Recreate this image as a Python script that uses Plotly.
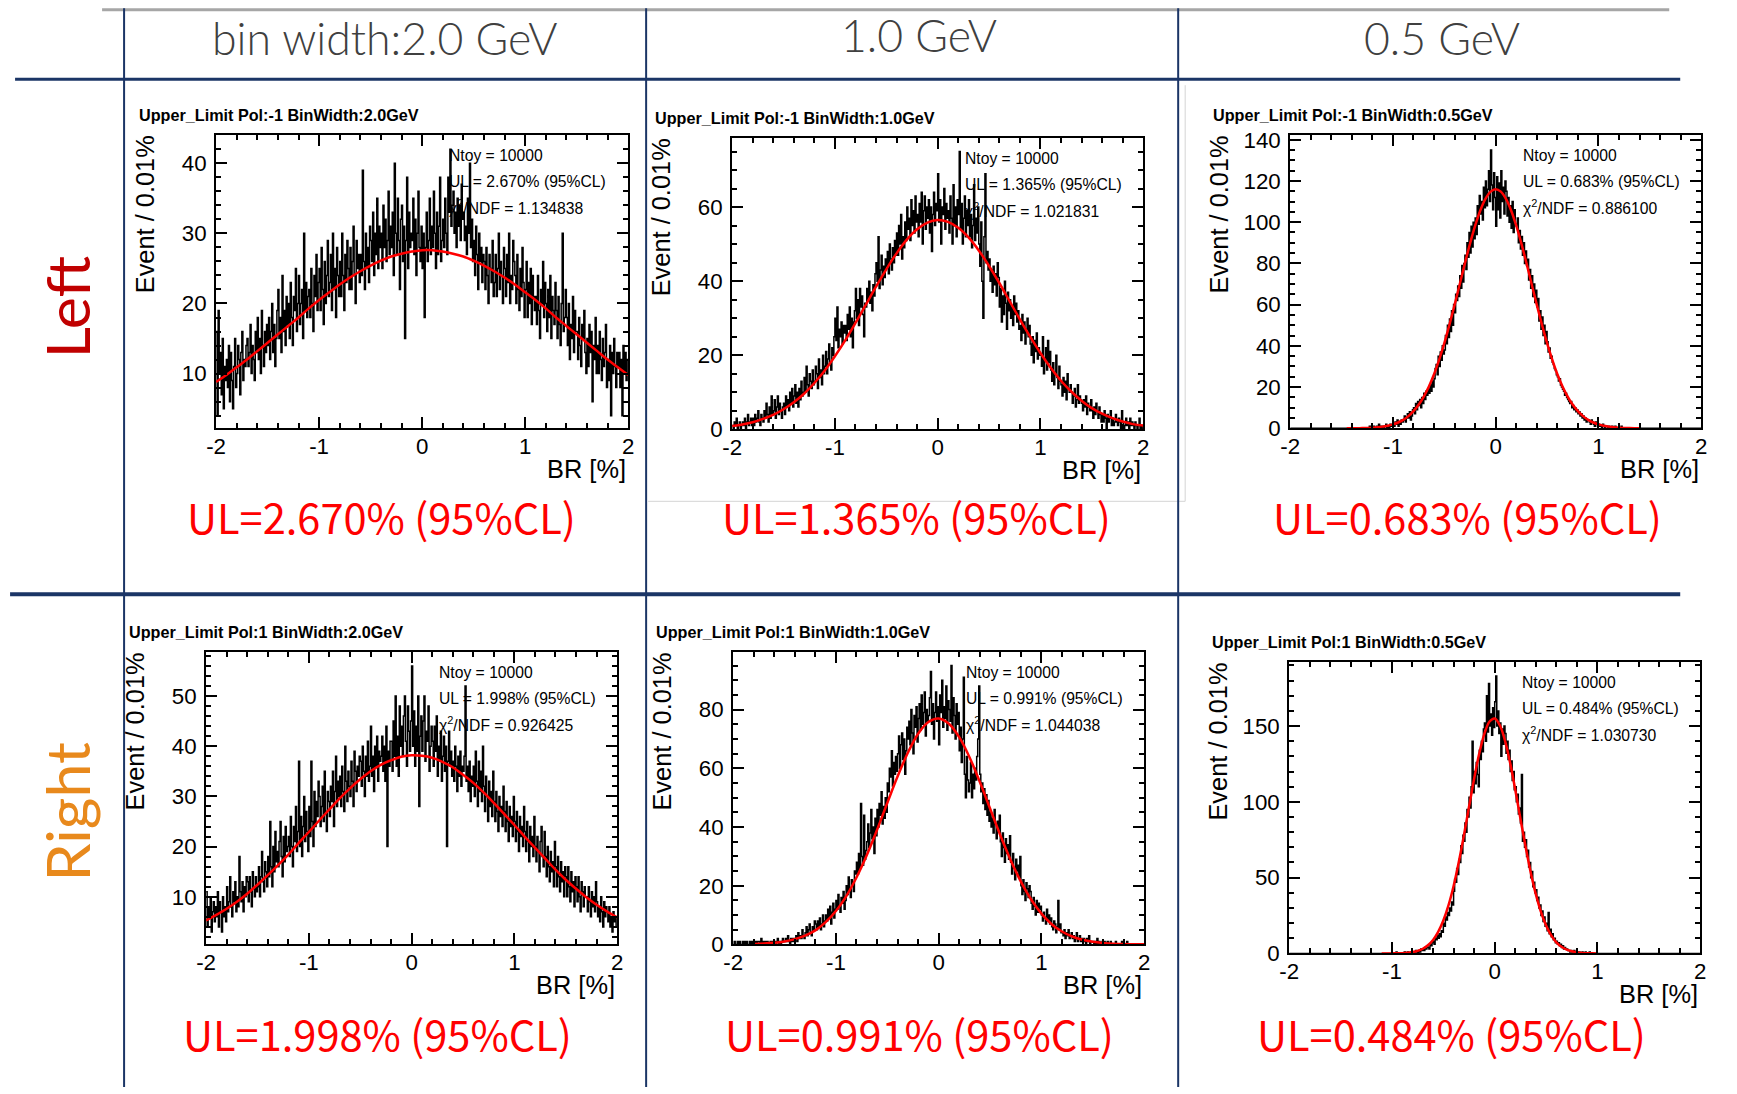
import numpy as np
import plotly.graph_objects as go

W, H = 1737, 1094          # target picture size
PAGE_MARGIN = 8            # default <body> margin of the written page
SX, SY = 0.9907, 0.9806    # measured page -> picture scale of the capture
FIG_W, FIG_H = 1737, 1100

# ---------------- data ----------------
BIN_LOW = -2.0
BIN_WIDTH = 0.01

X_TICKS = [-2, -1, 0, 1, 2]
X_TICK_TEXT = ["-2", "-1", "0", "1", "2"]

COL_HEADERS = ["bin width:2.0 GeV", "1.0 GeV", "0.5 GeV"]
ROW_LABELS = ["Left", "Right"]

PANEL_TITLES = [
    "Upper_Limit Pol:-1 BinWidth:2.0GeV", "Upper_Limit Pol:-1 BinWidth:1.0GeV", "Upper_Limit Pol:-1 BinWidth:0.5GeV",
    "Upper_Limit Pol:1 BinWidth:2.0GeV", "Upper_Limit Pol:1 BinWidth:1.0GeV", "Upper_Limit Pol:1 BinWidth:0.5GeV",
]
NTOY = [10000, 10000, 10000, 10000, 10000, 10000]
UL_VALUES = ["2.670", "1.365", "0.683", "1.998", "0.991", "0.484"]
CHI2_NDF = ["1.134838", "1.021831", "0.886100", "0.926425", "1.044038", "1.030730"]

tl_counts = [
    16, 4, 19, 10, 13, 7, 15, 5, 11, 9,
    12, 8, 14, 6, 13, 9, 5, 11, 15, 8,
    10, 14, 12, 7, 13, 16, 9, 12, 11, 14,
    15, 11, 13, 17, 10, 14, 12, 9, 16, 13,
    18, 12, 15, 10, 19, 14, 11, 16, 13, 17,
    14, 18, 12, 16, 20, 13, 17, 11, 15, 19,
    22, 15, 18, 13, 24, 16, 19, 14, 21, 17,
    20, 15, 23, 18, 14, 21, 19, 25, 16, 20,
    24, 17, 20, 22, 15, 30, 19, 23, 18, 21,
    22, 18, 25, 20, 16, 24, 21, 27, 19, 23,
    25, 19, 28, 22, 17, 26, 20, 24, 29, 21,
    23, 27, 19, 30, 22, 25, 18, 28, 24, 21,
    26, 21, 30, 24, 19, 27, 23, 29, 25, 22,
    28, 22, 26, 31, 24, 20, 29, 25, 27, 23,
    27, 24, 39, 26, 22, 30, 25, 28, 23, 31,
    29, 26, 33, 24, 30, 27, 35, 25, 31, 28,
    30, 25, 34, 28, 32, 26, 29, 36, 27, 31,
    28, 33, 24, 40, 30, 27, 35, 29, 22, 32,
    34, 26, 31, 15, 29, 38, 25, 33, 28, 30,
    29, 35, 27, 32, 24, 30, 36, 28, 26, 31,
    25, 30, 18, 28, 33, 26, 29, 35, 27, 31,
    28, 36, 30, 25, 33, 27, 31, 38, 26, 29,
    32, 28, 35, 30, 27, 38, 33, 42, 31, 34,
    36, 30, 33, 28, 35, 31, 34, 29, 37, 32,
    33, 29, 31, 27, 35, 30, 40, 28, 32, 26,
    29, 24, 31, 27, 22, 30, 26, 28, 23, 27,
    26, 22, 28, 24, 20, 27, 25, 23, 29, 21,
    23, 27, 21, 25, 30, 22, 26, 24, 20, 28,
    25, 21, 27, 23, 30, 20, 24, 22, 29, 26,
    24, 20, 27, 22, 19, 25, 21, 28, 23, 18,
    22, 26, 18, 23, 20, 25, 17, 24, 21, 19,
    21, 17, 24, 19, 15, 22, 20, 26, 18, 23,
    20, 16, 22, 18, 24, 15, 21, 19, 17, 23,
    19, 15, 21, 17, 14, 20, 30, 16, 18, 22,
    18, 14, 20, 12, 17, 15, 21, 13, 19, 16,
    16, 12, 18, 14, 11, 17, 15, 19, 13, 10,
    15, 11, 17, 13, 16, 6, 14, 12, 18, 10,
    14, 10, 16, 12, 9, 15, 11, 13, 17, 8,
    12, 9, 14, 4, 13, 10, 15, 11, 8, 13,
    11, 13, 8, 12, 4, 14, 10, 13, 9, 12,
]

tm_counts = [
    1, 0, 2, 1, 3, 0, 1, 2, 0, 1,
    2, 1, 3, 0, 2, 4, 1, 2, 3, 1,
    3, 1, 4, 2, 3, 5, 2, 1, 4, 3,
    2, 5, 3, 7, 4, 2, 6, 3, 9, 4,
    5, 8, 3, 6, 9, 4, 7, 5, 3, 6,
    7, 4, 9, 6, 8, 5, 10, 7, 11, 6,
    9, 12, 7, 10, 6, 11, 8, 13, 9, 10,
    14, 10, 17, 12, 9, 15, 13, 11, 16, 12,
    13, 17, 15, 11, 19, 14, 16, 12, 20, 15,
    17, 21, 15, 19, 23, 18, 16, 22, 20, 25,
    30, 24, 33, 22, 27, 25, 29, 23, 28, 26,
    28, 24, 31, 27, 33, 25, 30, 22, 29, 32,
    38, 30, 35, 28, 38, 33, 36, 31, 25, 34,
    33, 38, 35, 40, 34, 37, 32, 39, 36, 42,
    45, 40, 52, 38, 43, 47, 39, 44, 41, 46,
    44, 48, 42, 50, 46, 43, 49, 45, 51, 47,
    53, 47, 55, 50, 58, 46, 52, 49, 56, 51,
    60, 54, 57, 51, 62, 55, 59, 53, 63, 56,
    58, 52, 61, 56, 64, 50, 59, 63, 54, 60,
    57, 62, 53, 60, 48, 58, 64, 55, 61, 59,
    69, 56, 62, 50, 60, 58, 65, 54, 61, 57,
    59, 53, 63, 57, 50, 66, 55, 60, 52, 62,
    58, 75, 54, 61, 50, 57, 63, 52, 59, 55,
    62, 52, 58, 49, 55, 66, 51, 57, 53, 60,
    50, 44, 56, 40, 30, 52, 69, 45, 48, 43,
    46, 40, 43, 37, 44, 39, 42, 36, 45, 41,
    33, 38, 29, 36, 31, 40, 34, 27, 37, 32,
    35, 30, 33, 28, 36, 31, 34, 29, 32, 27,
    28, 24, 31, 26, 29, 23, 27, 30, 25, 28,
    23, 20, 25, 18, 24, 21, 26, 19, 22, 20,
    20, 17, 25, 15, 19, 22, 16, 24, 18, 21,
    16, 13, 18, 12, 15, 20, 14, 11, 17, 13,
    12, 9, 14, 10, 13, 8, 15, 11, 10, 12,
    10, 7, 9, 11, 6, 8, 12, 7, 9, 8,
    7, 5, 8, 6, 9, 4, 7, 6, 5, 8,
    5, 3, 6, 4, 7, 5, 3, 6, 4, 2,
    4, 2, 5, 3, 0, 4, 2, 3, 5, 1,
    3, 1, 2, 4, 2, 1, 3, 2, 0, 5,
    2, 0, 1, 3, 1, 2, 0, 3, 1, 2,
    1, 0, 2, 1, 0, 1, 3, 0, 1, 0,
]

tr_counts = [
    0, 0, 0, 0, 0, 0, 0, 0, 0, 0,
    0, 0, 0, 0, 0, 0, 0, 0, 0, 0,
    0, 0, 0, 0, 0, 0, 0, 0, 0, 0,
    0, 0, 0, 0, 0, 0, 0, 0, 0, 0,
    0, 0, 0, 0, 0, 0, 0, 0, 0, 0,
    0, 0, 0, 0, 0, 0, 0, 0, 0, 0,
    0, 0, 0, 0, 0, 0, 0, 0, 0, 0,
    0, 0, 0, 0, 0, 0, 0, 1, 0, 0,
    0, 1, 0, 0, 1, 0, 2, 0, 1, 0,
    1, 0, 1, 2, 0, 1, 0, 2, 1, 1,
    2, 1, 3, 2, 4, 1, 3, 2, 4, 3,
    4, 6, 3, 5, 7, 5, 8, 4, 6, 9,
    10, 7, 12, 9, 13, 11, 14, 10, 15, 12,
    17, 14, 18, 16, 19, 17, 21, 18, 23, 20,
    24, 29, 31, 26, 35, 30, 37, 33, 40, 36,
    38, 45, 41, 50, 44, 53, 47, 57, 50, 60,
    56, 65, 62, 69, 64, 74, 68, 79, 71, 80,
    84, 77, 90, 83, 95, 85, 98, 88, 100, 92,
    102, 94, 108, 99, 113, 104, 110, 101, 117, 107,
    120, 108, 116, 125, 110, 135, 118, 106, 124, 112,
    98, 122, 106, 119, 102, 125, 110, 117, 104, 120,
    115, 103, 112, 100, 108, 97, 110, 95, 106, 99,
    98, 102, 90, 96, 87, 93, 84, 90, 80, 86,
    79, 82, 72, 77, 68, 74, 64, 70, 61, 67,
    59, 63, 52, 57, 48, 54, 45, 50, 41, 47,
    42, 37, 39, 34, 35, 32, 31, 29, 28, 26,
    25, 23, 24, 21, 20, 19, 18, 16, 17, 15,
    14, 13, 12, 13, 10, 11, 9, 10, 8, 9,
    7, 8, 6, 7, 5, 6, 4, 5, 3, 4,
    4, 3, 2, 4, 3, 2, 1, 3, 2, 1,
    2, 1, 1, 0, 2, 1, 0, 1, 1, 0,
    1, 0, 0, 1, 0, 0, 1, 0, 0, 0,
    0, 0, 1, 0, 0, 0, 0, 0, 0, 0,
    0, 0, 0, 0, 0, 0, 0, 0, 0, 0,
    0, 0, 0, 0, 0, 0, 0, 0, 0, 0,
    0, 0, 0, 0, 0, 0, 0, 0, 0, 0,
    0, 0, 0, 0, 0, 0, 0, 0, 0, 0,
    0, 0, 0, 0, 0, 0, 0, 0, 0, 0,
    0, 0, 0, 0, 0, 0, 0, 0, 0, 0,
    0, 0, 0, 0, 0, 0, 0, 0, 0, 0,
]

bl_counts = [
    11, 4, 8, 6, 10, 3, 7, 9, 5, 8,
    6, 11, 4, 9, 7, 3, 10, 6, 8, 5,
    12, 7, 9, 14, 8, 6, 11, 9, 13, 7,
    10, 8, 18, 11, 9, 13, 7, 12, 10, 14,
    13, 9, 14, 11, 8, 15, 12, 10, 14, 11,
    12, 16, 10, 14, 19, 13, 11, 17, 15, 12,
    18, 14, 25, 16, 12, 20, 15, 23, 17, 19,
    16, 21, 25, 18, 14, 22, 17, 24, 19, 20,
    22, 18, 26, 20, 16, 24, 21, 28, 19, 23,
    37, 20, 26, 18, 24, 30, 21, 27, 23, 19,
    28, 22, 37, 25, 20, 31, 24, 29, 26, 33,
    30, 24, 28, 32, 25, 35, 27, 23, 31, 29,
    26, 32, 29, 35, 24, 31, 38, 28, 33, 30,
    34, 28, 36, 31, 27, 40, 33, 29, 35, 32,
    30, 37, 33, 28, 39, 35, 31, 36, 34, 38,
    37, 32, 40, 35, 30, 38, 34, 41, 33, 36,
    44, 34, 38, 31, 40, 36, 42, 33, 39, 37,
    38, 42, 35, 40, 33, 44, 20, 39, 36, 41,
    41, 35, 45, 38, 50, 36, 42, 34, 48, 40,
    44, 38, 46, 50, 41, 36, 48, 43, 39, 45,
    56, 40, 47, 36, 44, 39, 50, 28, 42, 46,
    39, 45, 50, 37, 43, 41, 48, 35, 40, 44,
    41, 36, 44, 39, 46, 34, 40, 37, 43, 33,
    38, 42, 35, 40, 20, 37, 43, 36, 39, 34,
    37, 33, 40, 36, 31, 38, 34, 39, 32, 36,
    35, 38, 52, 33, 36, 31, 37, 29, 34, 32,
    36, 30, 39, 33, 28, 37, 31, 35, 29, 40,
    32, 27, 34, 30, 25, 33, 28, 31, 26, 35,
    29, 25, 31, 27, 23, 30, 26, 28, 24, 32,
    27, 23, 29, 25, 21, 28, 24, 26, 22, 30,
    25, 21, 27, 23, 19, 26, 22, 24, 20, 28,
    23, 19, 25, 21, 17, 24, 20, 22, 18, 26,
    20, 17, 22, 19, 15, 21, 24, 18, 16, 23,
    18, 14, 20, 16, 13, 19, 15, 17, 12, 21,
    16, 12, 18, 14, 11, 17, 13, 15, 10, 16,
    14, 10, 16, 12, 9, 15, 11, 13, 8, 14,
    12, 9, 14, 10, 7, 13, 11, 8, 12, 10,
    10, 7, 12, 9, 6, 11, 8, 10, 7, 13,
    9, 6, 8, 5, 10, 7, 4, 9, 6, 8,
    7, 5, 8, 4, 6, 3, 7, 5, 6, 4,
]

bm_counts = [
    0, 1, 0, 0, 1, 0, 1, 0, 0, 1,
    0, 1, 0, 1, 0, 0, 1, 0, 1, 0,
    0, 0, 1, 0, 1, 1, 0, 2, 0, 1,
    0, 1, 0, 1, 0, 0, 1, 0, 1, 0,
    1, 0, 1, 2, 0, 1, 0, 1, 2, 1,
    1, 2, 1, 3, 1, 0, 2, 1, 2, 1,
    2, 3, 1, 4, 2, 3, 2, 5, 3, 2,
    4, 6, 3, 5, 7, 4, 3, 6, 5, 8,
    7, 5, 8, 6, 9, 5, 7, 10, 6, 8,
    10, 8, 12, 9, 13, 7, 11, 14, 9, 12,
    15, 12, 17, 13, 11, 16, 14, 18, 12, 15,
    20, 17, 23, 19, 16, 22, 21, 18, 25, 24,
    28, 24, 31, 26, 48, 30, 27, 44, 29, 32,
    35, 41, 33, 38, 46, 36, 40, 31, 43, 37,
    46, 40, 48, 44, 52, 41, 47, 43, 50, 45,
    55, 52, 60, 57, 66, 54, 62, 58, 64, 59,
    65, 71, 60, 68, 72, 63, 70, 58, 66, 74,
    70, 76, 68, 80, 72, 65, 78, 74, 81, 69,
    77, 82, 73, 85, 75, 79, 86, 71, 80, 76,
    78, 84, 93, 75, 82, 70, 79, 86, 76, 81,
    68, 85, 79, 90, 74, 81, 77, 88, 73, 83,
    80, 76, 95, 72, 84, 78, 70, 82, 75, 79,
    66, 74, 62, 70, 91, 58, 50, 64, 56, 52,
    55, 62, 50, 58, 53, 60, 56, 64, 70, 88,
    58, 52, 55, 48, 53, 46, 51, 44, 49, 42,
    45, 40, 43, 38, 46, 41, 36, 42, 39, 44,
    35, 30, 38, 33, 28, 36, 31, 34, 29, 37,
    28, 24, 31, 26, 22, 29, 25, 27, 23, 30,
    20, 17, 22, 18, 15, 21, 19, 16, 20, 18,
    14, 12, 16, 13, 10, 15, 11, 14, 12, 13,
    10, 8, 11, 9, 7, 12, 8, 10, 7, 9,
    6, 5, 8, 7, 4, 6, 15, 5, 7, 4,
    4, 3, 5, 2, 4, 3, 5, 2, 3, 4,
    2, 3, 1, 2, 4, 1, 2, 3, 1, 2,
    1, 2, 1, 0, 2, 1, 3, 0, 1, 1,
    1, 0, 1, 0, 2, 0, 1, 0, 0, 1,
    0, 1, 0, 0, 1, 0, 0, 1, 0, 0,
    0, 0, 1, 0, 0, 0, 0, 0, 1, 0,
    0, 0, 0, 1, 0, 0, 0, 0, 0, 0,
    0, 0, 0, 0, 0, 0, 0, 0, 0, 0,
]

br_counts = [
    0, 0, 0, 0, 0, 0, 0, 0, 0, 0,
    0, 0, 0, 0, 0, 0, 0, 0, 0, 0,
    0, 0, 0, 0, 0, 0, 0, 0, 0, 0,
    0, 0, 0, 0, 0, 0, 0, 0, 0, 0,
    0, 0, 0, 0, 0, 0, 0, 0, 0, 0,
    0, 0, 0, 0, 0, 0, 0, 0, 0, 0,
    0, 0, 0, 0, 0, 0, 0, 0, 0, 0,
    0, 0, 0, 0, 0, 0, 0, 0, 0, 0,
    0, 0, 0, 0, 0, 0, 0, 0, 0, 0,
    0, 0, 0, 0, 0, 0, 0, 0, 0, 0,
    0, 0, 0, 0, 1, 0, 0, 0, 0, 0,
    0, 0, 1, 0, 0, 1, 0, 0, 1, 0,
    1, 0, 1, 2, 1, 0, 2, 1, 3, 2,
    3, 2, 4, 3, 5, 4, 3, 6, 5, 7,
    8, 6, 10, 9, 12, 10, 13, 11, 15, 14,
    20, 18, 24, 22, 27, 25, 30, 28, 34, 32,
    41, 49, 47, 56, 52, 62, 60, 71, 66, 78,
    74, 86, 80, 95, 90, 103, 96, 110, 140, 106,
    120, 112, 126, 118, 110, 134, 128, 140, 133, 148,
    152, 140, 170, 146, 178, 150, 158, 144, 162, 149,
    166, 183, 150, 160, 145, 152, 130, 148, 138, 150,
    145, 132, 140, 128, 134, 120, 127, 114, 120, 108,
    110, 100, 105, 92, 96, 86, 118, 74, 80, 70,
    75, 64, 68, 57, 60, 50, 54, 44, 47, 40,
    42, 35, 37, 30, 32, 25, 28, 21, 24, 18,
    20, 15, 27, 13, 16, 11, 13, 9, 10, 7,
    8, 6, 7, 5, 6, 4, 5, 3, 4, 3,
    3, 2, 2, 1, 2, 1, 1, 2, 0, 1,
    1, 0, 1, 0, 0, 1, 0, 0, 1, 0,
    0, 0, 1, 0, 0, 0, 0, 0, 0, 0,
    0, 0, 0, 0, 0, 0, 0, 0, 0, 0,
    0, 0, 0, 0, 0, 0, 0, 0, 0, 0,
    0, 0, 0, 0, 0, 0, 0, 0, 0, 0,
    0, 0, 0, 0, 0, 0, 0, 0, 0, 0,
    0, 0, 0, 0, 0, 0, 0, 0, 0, 0,
    0, 0, 0, 0, 0, 0, 0, 0, 0, 0,
    0, 0, 0, 0, 0, 0, 0, 0, 0, 0,
    0, 0, 0, 0, 0, 0, 0, 0, 0, 0,
    0, 0, 0, 0, 0, 0, 0, 0, 0, 0,
    0, 0, 0, 0, 0, 0, 0, 0, 0, 0,
]

# Red fit curves at regular x samples
tl_fit_start, tl_fit_step = -2.0, 0.1
tl_fit = [8.8, 9.8, 10.9, 12.0, 13.2, 14.4, 15.6, 16.8, 18.0, 19.3, 20.5, 21.6, 22.7, 23.7,
          24.6, 25.4, 26.1, 26.7, 27.1, 27.4, 27.6, 27.6, 27.4, 27.1, 26.7, 26.1, 25.4, 24.6,
          23.7, 22.7, 21.6, 20.5, 19.3, 18.0, 16.8, 15.6, 14.4, 13.2, 12.0, 10.9, 9.8]
tm_fit_start, tm_fit_step = -2.0, 0.1
tm_fit = [0.9, 1.3, 1.9, 2.8, 3.9, 5.4, 7.3, 9.6, 12.5, 15.8, 19.7, 24.0, 28.7, 33.6, 38.5,
          43.2, 47.5, 51.2, 54.0, 55.8, 56.5, 56.0, 54.4, 51.8, 48.3, 44.1, 39.5, 34.6, 29.7,
          25.0, 20.6, 16.6, 13.1, 10.2, 7.7, 5.7, 4.2, 3.0, 2.1, 1.4, 1.0]
tr_fit_start, tr_fit_step = -1.45, 0.05
tr_fit = [0.02, 0.04, 0.06, 0.1, 0.18, 0.3, 0.5, 0.8, 1.2, 1.9, 2.8, 4.1, 5.9, 8.3, 11.4, 15.4,
          20.3, 26.2, 33.3, 41.3, 50.3, 59.9, 69.9, 80.0, 89.6, 98.3, 105.7, 111.3, 114.8, 116.0,
          114.8, 111.3, 105.7, 98.3, 89.6, 80.0, 69.9, 59.9, 50.3, 41.3, 33.3, 26.2, 20.3, 15.4,
          11.4, 8.3, 5.9, 4.1, 2.8, 1.9, 1.2, 0.8, 0.5, 0.3, 0.18, 0.1, 0.06, 0.04]
bl_fit_start, bl_fit_step = -2.0, 0.1
bl_fit = [5.3, 6.4, 7.6, 9.0, 10.6, 12.4, 14.3, 16.3, 18.4, 20.7, 22.9, 25.2, 27.4, 29.6, 31.6,
          33.4, 35.0, 36.3, 37.2, 37.9, 38.2, 38.1, 37.7, 36.9, 35.8, 34.3, 32.7, 30.8, 28.7,
          26.5, 24.3, 22.0, 19.8, 17.6, 15.4, 13.4, 11.6, 9.9, 8.4, 7.1, 5.9]
bm_fit_start, bm_fit_step = -1.8, 0.1
bm_fit = [0.15, 0.29, 0.55, 1.0, 1.8, 3.0, 4.8, 7.6, 11.4, 16.4, 22.8, 30.4, 39.0, 48.2, 57.2,
          65.3, 71.8, 75.8, 77.0, 75.2, 70.6, 63.8, 55.4, 46.3, 37.2, 28.8, 21.4, 15.3, 10.5,
          6.9, 4.4, 2.7, 1.6, 0.9, 0.5, 0.25, 0.13, 0.06, 0.03]
br_fit_start, br_fit_step = -1.1, 0.05
br_fit = [0.01, 0.02, 0.05, 0.08, 0.2, 0.48, 0.9, 1.7, 3.1, 5.4, 8.9, 14.2, 21.7, 31.7, 44.5,
          60.1, 77.8, 96.7, 115.3, 132.0, 145.0, 153.0, 155.0, 150.5, 140.4, 125.7, 108.0, 89.0,
          70.5, 53.6, 39.1, 27.4, 18.4, 11.9, 7.3, 4.4, 2.5, 1.4, 0.7, 0.36, 0.17, 0.08, 0.04]

# ---------------- styling / layout ----------------
ROOT_FONT = "Liberation Sans, Arial, sans-serif"
SLIDE_FONT = "Lato, Open Sans, sans-serif"
RED_FONT = "Noto Sans CJK JP, Lato, sans-serif"
NAVY = "#1b3566"


def px(x):
    """target picture pixel x -> figure paper coordinate"""
    return (x / SX - PAGE_MARGIN) / FIG_W


def py(y):
    """target picture pixel y -> figure paper coordinate"""
    return 1 - (y / SY - PAGE_MARGIN) / FIG_H


def fs(size):
    """font size compensated for the capture scale"""
    return round(size / ((SX + SY) / 2), 1)


panels = [
    dict(counts=tl_counts, fit=tl_fit, f0=tl_fit_start, fd=tl_fit_step, yrange=[2.2, 44.0], dtick=10, minor=2,
         box=(214, 626, 135, 428), red=(379, 515.5)),
    dict(counts=tm_counts, fit=tm_fit, f0=tm_fit_start, fd=tm_fit_step, yrange=[0, 78.6], dtick=20, minor=5,
         box=(730, 1141, 138, 429), red=(914, 515.5)),
    dict(counts=tr_counts, fit=tr_fit, f0=tr_fit_start, fd=tr_fit_step, yrange=[0, 142.2], dtick=20, minor=5,
         box=(1288, 1699, 135, 428), red=(1465, 515.5)),
    dict(counts=bl_counts, fit=bl_fit, f0=bl_fit_start, fd=bl_fit_step, yrange=[0.5, 58.7], dtick=10, minor=2,
         box=(204, 615, 652, 944), red=(375, 1032.5)),
    dict(counts=bm_counts, fit=bm_fit, f0=bm_fit_start, fd=bm_fit_step, yrange=[0, 99.5], dtick=20, minor=5,
         box=(731, 1142, 652, 944), red=(917, 1032.5)),
    dict(counts=br_counts, fit=br_fit, f0=br_fit_start, fd=br_fit_step, yrange=[0, 192.0], dtick=50, minor=10,
         box=(1287, 1698, 662, 953), red=(1449, 1032.5)),
]

axis_style = dict(showline=True, linecolor="black", linewidth=2, mirror="ticks", ticks="inside",
                  ticklen=11, tickwidth=1.5, tickcolor="black", showgrid=False, zeroline=False,
                  tickfont=dict(family=ROOT_FONT, size=fs(22), color="black"), fixedrange=True)

fig = go.Figure()
layout = dict(width=FIG_W, height=FIG_H, margin=dict(l=0, r=0, t=0, b=0), paper_bgcolor="white",
              plot_bgcolor="white", showlegend=False, font=dict(family=ROOT_FONT))
annotations = []

for i, p in enumerate(panels, start=1):
    sfx = "" if i == 1 else str(i)
    L, R, T, B = p["box"]
    counts = p["counts"]
    edges = np.round(BIN_LOW + BIN_WIDTH * np.arange(len(counts) + 1), 4)
    hx = list(edges)
    hy = list(counts) + [counts[-1]]
    fx = np.round(p["f0"] + p["fd"] * np.arange(len(p["fit"])), 4)

    fig.add_trace(go.Scatter(x=hx, y=hy, mode="lines", xaxis="x" + sfx, yaxis="y" + sfx,
                             line=dict(color="black", width=1.5, shape="hv"), hoverinfo="skip"))
    fig.add_trace(go.Scatter(x=fx, y=p["fit"], mode="lines", xaxis="x" + sfx, yaxis="y" + sfx,
                             line=dict(color="#ff0000", width=2.5, shape="spline", smoothing=1.0),
                             hoverinfo="skip"))

    layout["xaxis" + sfx] = dict(domain=[px(L), px(R)], range=[-2, 2], anchor="y" + sfx,
                                 tickmode="array", tickvals=X_TICKS, ticktext=X_TICK_TEXT,
                                 minor=dict(tickmode="linear", tick0=-2, dtick=0.2, ticks="inside",
                                            ticklen=5, tickwidth=1.5, tickcolor="black", showgrid=False),
                                 **axis_style)
    layout["yaxis" + sfx] = dict(domain=[py(B), py(T)], range=p["yrange"], anchor="x" + sfx,
                                 tickmode="linear", tick0=0, dtick=p["dtick"],
                                 minor=dict(tickmode="linear", tick0=0, dtick=p["minor"], ticks="inside",
                                            ticklen=5, tickwidth=1.5, tickcolor="black", showgrid=False),
                                 **axis_style)

    k = i - 1
    annotations.append(dict(x=px(L - 79.5), y=py(T - 20.5), xref="paper", yref="paper", xanchor="left",
                            yanchor="middle", showarrow=False, text="<b>" + PANEL_TITLES[k] + "</b>",
                            font=dict(family=ROOT_FONT, size=fs(16), color="black")))
    annotations.append(dict(x=px(L - 71), y=py(T + 79), xref="paper", yref="paper", xanchor="center",
                            yanchor="middle", showarrow=False, textangle=-90, text="Event / 0.01%",
                            font=dict(family=ROOT_FONT, size=fs(25), color="black")))
    annotations.append(dict(x=px(R), y=py(B + 41), xref="paper", yref="paper", xanchor="right",
                            yanchor="middle", showarrow=False, text="BR [%]",
                            font=dict(family=ROOT_FONT, size=fs(25), color="black")))
    stats = ["Ntoy = %d" % NTOY[k], "UL = %s%% (95%%CL)" % UL_VALUES[k],
             "\u03c7<sup>2</sup>/NDF = %s" % CHI2_NDF[k]]
    for j, s in enumerate(stats):
        annotations.append(dict(x=px(L + 231), y=py(T + 20 + 26 * j), xref="paper", yref="paper",
                                xanchor="left", yanchor="middle", showarrow=False, text=s,
                                font=dict(family=ROOT_FONT, size=fs(15.5), color="black")))
    annotations.append(dict(x=px(p["red"][0]), y=py(p["red"][1]), xref="paper", yref="paper",
                            xanchor="center", yanchor="middle", showarrow=False,
                            text="UL=%s%% (95%%CL)" % UL_VALUES[k],
                            font=dict(family=RED_FONT, size=fs(41), color="#ff0000")))

# column headers
for txt, (cx, cy) in zip(COL_HEADERS, [(382, 37.7), (917, 34.7), (1440, 37.7)]):
    annotations.append(dict(x=px(cx), y=py(cy), xref="paper", yref="paper", xanchor="center",
                            yanchor="middle", showarrow=False, text=txt,
                            font=dict(family=SLIDE_FONT, size=fs(44), color="#404040", weight=300)))

# row labels
for txt, col, cy in zip(ROW_LABELS, ["#c00000", "#e8891c"], [307, 811]):
    annotations.append(dict(x=px(64), y=py(cy), xref="paper", yref="paper", xanchor="center",
                            yanchor="middle", showarrow=False, textangle=-90, text=txt,
                            font=dict(family=SLIDE_FONT, size=fs(60), color=col)))

shapes = [
    dict(type="line", xref="paper", yref="paper", x0=px(100), x1=px(1667), y0=py(9.5), y1=py(9.5),
         line=dict(color="#a6a6a6", width=3)),
    dict(type="line", xref="paper", yref="paper", x0=px(13), x1=px(1678), y0=py(79), y1=py(79),
         line=dict(color=NAVY, width=3)),
    dict(type="line", xref="paper", yref="paper", x0=px(8), x1=px(1678), y0=py(594), y1=py(594),
         line=dict(color=NAVY, width=4)),
    dict(type="line", xref="paper", yref="paper", x0=px(646), x1=px(1183), y0=py(501), y1=py(501),
         line=dict(color="#d4d4d4", width=1)),
    dict(type="line", xref="paper", yref="paper", x0=px(1183), x1=px(1183), y0=py(85), y1=py(501),
         line=dict(color="#d4d4d4", width=1)),
]
for vx in [122, 644, 1176]:
    shapes.append(dict(type="line", xref="paper", yref="paper", x0=px(vx), x1=px(vx), y0=py(8), y1=0,
                       line=dict(color=NAVY, width=2)))

layout["annotations"] = annotations
layout["shapes"] = shapes
fig.update_layout(**layout)

# nudge tick labels: y labels a little away from the axis, x labels a little closer
try:
    fig.update_yaxes(ticklabelstandoff=3)
except Exception:
    pass
try:
    fig.update_xaxes(ticklabelstandoff=-3)
except Exception:
    pass

fig.write_html("out.html")
